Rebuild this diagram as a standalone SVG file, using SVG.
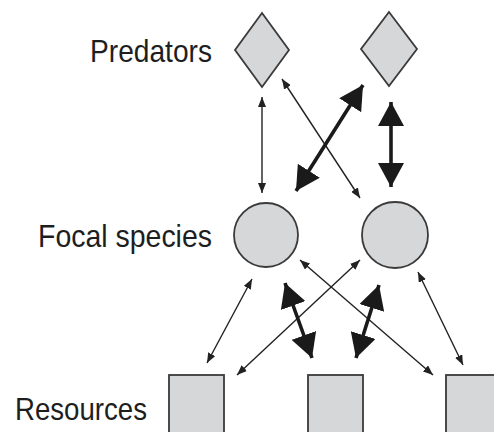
<svg xmlns="http://www.w3.org/2000/svg" width="494" height="432" viewBox="0 0 494 432">
<style>
.shape{fill:#d6d7d9;stroke:#3a3a3a;stroke-width:1.8}
.thin{stroke:#222;stroke-width:1.4;fill:none;marker-start:url(#hs);marker-end:url(#hs)}
.thick{stroke:#1a1a1a;stroke-width:3.6;fill:none;marker-start:url(#hb);marker-end:url(#hb)}
.lbl{font-family:"Liberation Sans",Arial,sans-serif;font-size:32px;fill:#1e1e1e}
</style>
<defs>
<marker id="hs" viewBox="0 0 10 8" refX="10" refY="4" markerWidth="10" markerHeight="8" markerUnits="userSpaceOnUse" orient="auto-start-reverse">
<path d="M0,0 L10,4 L0,8 z" fill="#222"/>
</marker>
<marker id="hb" viewBox="0 0 24 26" refX="24" refY="13" markerWidth="24" markerHeight="26" markerUnits="userSpaceOnUse" orient="auto-start-reverse">
<path d="M0,0 L24,13 L0,26 z" fill="#1a1a1a"/>
</marker>
</defs>
<g id="label-predators"><text class="lbl" x="90" y="62" textLength="122" lengthAdjust="spacingAndGlyphs">Predators</text></g>
<g id="label-focal"><text class="lbl" x="38" y="247" textLength="174" lengthAdjust="spacingAndGlyphs">Focal species</text></g>
<g id="label-resources"><text class="lbl" x="15" y="420" textLength="132" lengthAdjust="spacingAndGlyphs">Resources</text></g>
<g id="predator1"><polygon class="shape" points="262,13 289,50 262,87 235,50"/></g>
<g id="predator2"><polygon class="shape" points="389,12 417,49 389,86 361,49"/></g>
<g id="focal1"><circle class="shape" cx="266" cy="235" r="32"/></g>
<g id="focal2"><circle class="shape" cx="395" cy="235" r="33"/></g>
<g id="resource1"><rect class="shape" x="169" y="375" width="55" height="62"/></g>
<g id="resource2"><rect class="shape" x="308" y="375" width="55" height="62"/></g>
<g id="resource3"><rect class="shape" x="446" y="375" width="55" height="62"/></g>
<g id="connectors">
<line class="thin" x1="262" y1="97" x2="262" y2="193"/>
<line class="thin" x1="282" y1="79" x2="360" y2="198"/>
<line class="thick" x1="363" y1="85" x2="296" y2="191"/>
<line class="thick" x1="391" y1="102" x2="391" y2="187"/>
<line class="thin" x1="252" y1="279" x2="207" y2="363"/>
<line class="thin" x1="360" y1="260" x2="237" y2="375"/>
<line class="thin" x1="300" y1="260" x2="433" y2="375"/>
<line class="thin" x1="418" y1="272" x2="463" y2="365"/>
<line class="thick" x1="285" y1="283" x2="312" y2="358"/>
<line class="thick" x1="379" y1="285" x2="356" y2="358"/>
</g>
</svg>
